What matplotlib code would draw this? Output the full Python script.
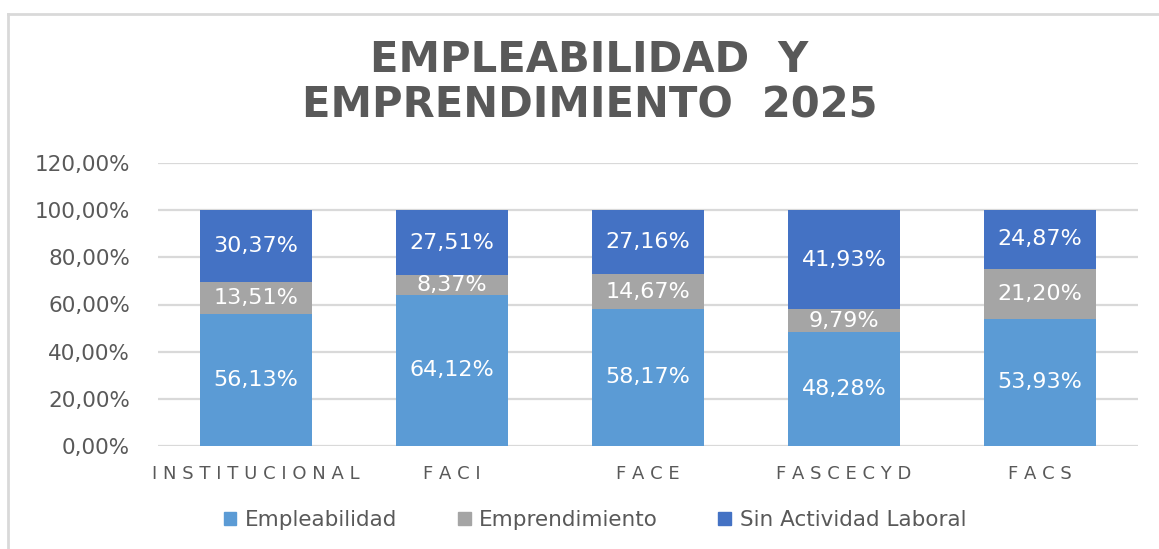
import matplotlib
matplotlib.use("Agg")
import matplotlib.pyplot as plt
import numpy as np
from matplotlib.patches import Rectangle
from matplotlib.lines import Line2D

categories = ["INSTITUCIONAL", "FACI", "FACE", "FASCECYD", "FACS"]
empleabilidad = [56.13, 64.12, 58.17, 48.28, 53.93]
emprendimiento = [13.51, 8.37, 14.67, 9.79, 21.20]
sin_actividad = [30.37, 27.51, 27.16, 41.93, 24.87]
series_names = ["Empleabilidad", "Emprendimiento", "Sin Actividad Laboral"]
colors = ["#5B9BD5", "#A5A5A5", "#4472C4"]
yticks = [0, 20, 40, 60, 80, 100, 120]

text_col = "#595959"
grid_col = "#D9D9D9"


def pct(v):
    return f"{v:.2f}%".replace(".", ",")


fig = plt.figure(figsize=(11.59, 5.49), dpi=100)
W, H = 1159, 549
# plot area in pixels: x 158..1138, y(0%)=446, y(120%)=163
ax = fig.add_axes([158 / W, 1 - 446 / H, 980 / W, (446 - 163) / H])

x = np.arange(len(categories))
bottom = np.zeros(len(categories))
for vals, name, col in zip([empleabilidad, emprendimiento, sin_actividad], series_names, colors):
    vals = np.array(vals)
    ax.bar(x, vals, bottom=bottom, width=0.57, color=col, label=name, zorder=3)
    for xi, b, v in zip(x, bottom, vals):
        ax.text(xi, b + v / 2, pct(v), ha="center", va="center", color="white",
                fontsize=16, family="DejaVu Sans", zorder=4)
    bottom += vals

ax.set_xlim(-0.5, len(categories) - 0.5)
ax.set_ylim(0, 120)
ax.set_yticks(yticks)
ax.set_yticklabels([pct(t) for t in yticks], color=text_col, fontsize=15.5, family="DejaVu Sans")
ax.set_xticks(x)
ax.set_xticklabels([" ".join(c) for c in categories], color=text_col, fontsize=13,
                   family="DejaVu Sans")
ax.tick_params(length=0)
ax.tick_params(axis="x", pad=14)
ax.tick_params(axis="y", pad=20)
ax.yaxis.grid(True, color=grid_col, linewidth=1.6, zorder=0)
for s in ax.spines.values():
    s.set_visible(False)

fig.text(0.5 + 10 / W, 1 - 60 / H, "EMPLEABILIDAD  Y", ha="center", va="center",
         fontsize=30, fontweight="bold", color=text_col, family="DejaVu Sans")
fig.text(0.5 + 10 / W, 1 - 105 / H, "EMPRENDIMIENTO  2025", ha="center", va="center",
         fontsize=30, fontweight="bold", color=text_col, family="DejaVu Sans")

# chart border (top and left edges visible)
fig.add_artist(Line2D([8 / W, 8 / W], [0, 1 - 14 / H], color="#D9D9D9", linewidth=2))
fig.add_artist(Line2D([8 / W, 1], [1 - 14 / H, 1 - 14 / H], color="#D9D9D9", linewidth=2))

handles = [Rectangle((0, 0), 1, 1, color=c) for c in colors]
fig.legend(handles, series_names, loc="center", bbox_to_anchor=(595 / W, 1 - 520 / H),
           ncol=3, frameon=False, fontsize=15.5, handlelength=0.6, handleheight=0.6,
           handletextpad=0.4, columnspacing=2.8, labelcolor=text_col)

fig.savefig("out.png", dpi=100)
